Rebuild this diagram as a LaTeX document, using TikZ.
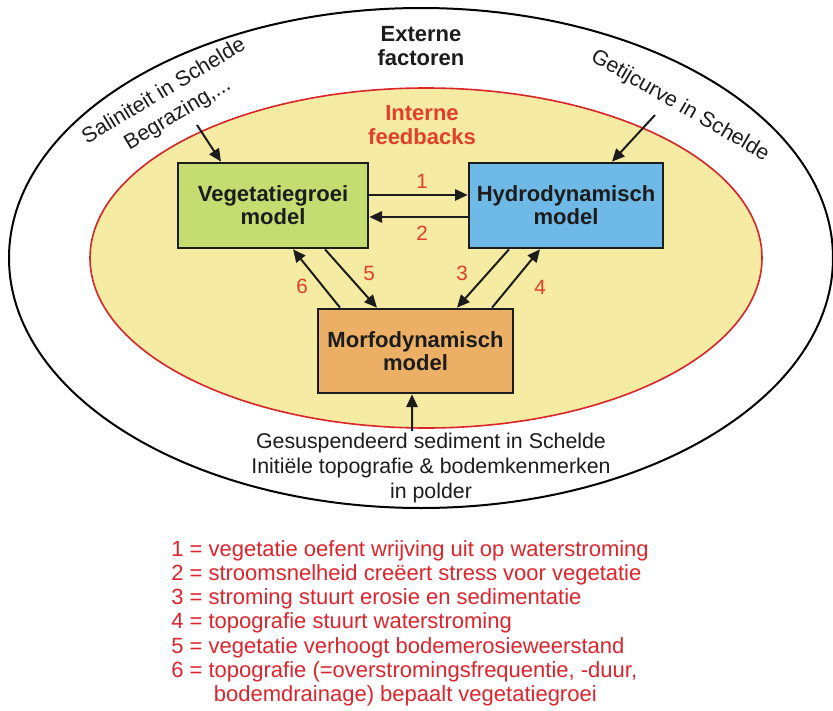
\documentclass[tikz,border=0pt]{standalone}
\usepackage{fontspec}
\setmainfont{Liberation Sans}
\usetikzlibrary{arrows.meta}
\definecolor{yellowfill}{RGB}{246,235,162}
\definecolor{vegfill}{RGB}{196,220,112}
\definecolor{hydfill}{RGB}{110,185,230}
\definecolor{morfill}{RGB}{235,176,102}
\definecolor{numred}{RGB}{226,62,40}
\definecolor{legred}{RGB}{222,36,44}
\definecolor{ellred}{RGB}{218,36,40}
\definecolor{ink}{RGB}{28,28,28}
\begin{document}
\begin{tikzpicture}[x=0.75pt,y=-0.75pt,
  model/.style={draw=ink, line width=2pt, align=center, inner sep=2pt, minimum height=63.75pt,
    font=\fontsize{16.5}{17.25}\selectfont\bfseries, text=ink},
  arr/.style={draw=ink, line width=1.5pt, -{Triangle[length=9.5pt,width=8.5pt]}},
  num/.style={text=numred, font=\fontsize{15.5}{18}\selectfont, inner sep=0pt},
  ext/.style={text=ink, font=\fontsize{16}{18.75}\selectfont, align=center, inner sep=0pt},
  ttl/.style={font=\fontsize{16.5}{18}\selectfont\bfseries, align=center, inner sep=0pt}]
\useasboundingbox (0,0) rectangle (833,711);
\fill[white] (0,0) rectangle (833,711);
\draw[black, line width=1.5pt] (421,258) ellipse [x radius=309pt, y radius=187.5pt];
\draw[ellred, fill=yellowfill, line width=1.2pt] (426,258) ellipse [x radius=252pt, y radius=127.5pt];

\node[ttl, text=ink] (externe) at (421,46) {Externe\\factoren};
\node[ttl, text=numred] (interne) at (422,125) {Interne\\feedbacks};

\node[model, fill=vegfill, minimum width=142.5pt] (veg) at (273,205.5) {Vegetatiegroei\\model};
\node[model, fill=hydfill, minimum width=145.5pt] (hyd) at (566,205.5) {Hydrodynamisch\\model};
\node[model, fill=morfill, minimum width=146.25pt, minimum height=63pt] (mor) at (415.5,351) {Morfodynamisch\\model};

\node[ext, rotate=31, font=\fontsize{16}{20}\selectfont] (salin) at (171,103) {Saliniteit in Schelde\\Begrazing,...};
\node[ext, rotate=-30] (getij) at (680,106) {Getijcurve in Schelde};
\node[ext] (sedi) at (431,468) {Gesuspendeerd sediment in Schelde\\Initiële topografie \& bodemkenmerken\\in polder};

\coordinate (salinarr) at (197,125);
\coordinate (getijarr) at (655,115);
\coordinate (sediarr) at (412,431);

\draw[arr] (salinarr) -- ([xshift=-39pt]veg.north);
\draw[arr] (getijarr) -- ([xshift=34.5pt]hyd.north);
\draw[arr] (sediarr) -- ([xshift=-2.6pt]mor.south);
\draw[arr] ([yshift=7.9pt]veg.east) -- ([yshift=7.9pt]hyd.west);
\draw[arr] ([yshift=-8.6pt]hyd.west) -- ([yshift=-8.6pt]veg.east);
\draw[arr] ([xshift=-56.6pt]mor.north) -- ([xshift=15pt]veg.south);
\draw[arr] ([xshift=39pt]veg.south) -- ([xshift=-28.9pt]mor.north);
\draw[arr] ([xshift=-42.75pt]hyd.south) -- ([xshift=31.1pt]mor.north);
\draw[arr] ([xshift=57.4pt]mor.north) -- ([xshift=-19.5pt]hyd.south);

\node[num] (n1) at (422,181) {1};
\node[num] (n2) at (422,233) {2};
\node[num] (n3) at (462,273) {3};
\node[num] (n4) at (540,287) {4};
\node[num] (n5) at (369,273) {5};
\node[num] (n6) at (302,286) {6};

\node[anchor=north west, inner sep=0pt, align=left, text=legred,
  font=\fontsize{16.5}{18.15}\selectfont] (legend) at (171,540)
  {1 = vegetatie oefent wrijving uit op waterstroming\\
   2 = stroomsnelheid creëert stress voor vegetatie\\
   3 = stroming stuurt erosie en sedimentatie\\
   4 = topografie stuurt waterstroming\\
   5 = vegetatie verhoogt bodemerosieweerstand\\
   6 = topografie (=overstromingsfrequentie, -duur,\\
   \hspace*{32pt}bodemdrainage) bepaalt vegetatiegroei};
\end{tikzpicture}
\end{document}
